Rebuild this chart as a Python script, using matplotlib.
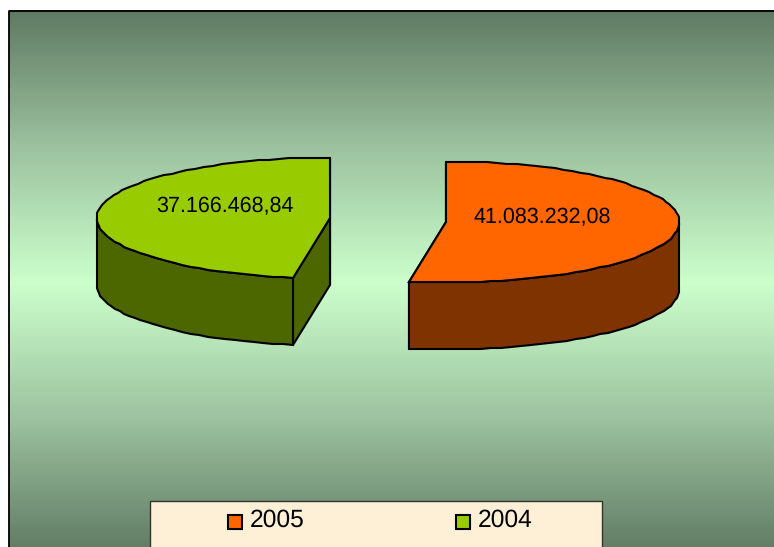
import numpy as np
import matplotlib
matplotlib.use("Agg")
import matplotlib.pyplot as plt
from matplotlib.patches import Polygon, Rectangle
from matplotlib.colors import LinearSegmentedColormap

plt.rcParams['font.family'] = ['Liberation Sans', 'DejaVu Sans']
plt.rcParams['text.hinting'] = 'none'

categories = ["2005", "2004"]
values = [41083232.08, 37166468.84]
value_labels = ["41.083.232,08", "37.166.468,84"]

W, H = 774, 547

fig = plt.figure(figsize=(W / 100, H / 100), dpi=100)
ax = fig.add_axes([0, 0, 1, 1])
ax.set_xlim(0, W)
ax.set_ylim(H, 0)
ax.axis("off")

# background gradient, dark at the edges and light in the middle
cmap = LinearSegmentedColormap.from_list("bg", ["#5f7a62", "#9cc29f", "#ccffcc", "#9cc29f", "#5f7a62"])
grad = np.linspace(0, 1, 256).reshape(-1, 1)
left, top = 8.5, 10.5
ax.imshow(grad, cmap=cmap, extent=[left, W, 556, top], aspect="auto", zorder=0)
ax.set_xlim(0, W)
ax.set_ylim(H, 0)
# the frame is only visible at the left and top, the rest runs off the image
ax.plot([left, left, W], [H, top, top], color="black", lw=1.3, zorder=1)

total = sum(values)
a, b, depth = 233.5, 60.5, 67


def ell(cx, cy, deg):
    # rounded to whole pixels, the original outline is a bit jagged
    t = np.radians(deg)
    return np.column_stack([np.round(cx + a * np.cos(t)), np.round(cy - b * np.sin(t))])


def slice_3d(cx, cy, start, sweep, top_col, side_col):
    angles = np.linspace(start, start + sweep, int(abs(sweep) / 2.5) + 1)
    arc = ell(cx, cy, angles)
    end = arc[-1]
    centre = np.array([cx, cy])
    down = np.array([0, depth])

    # cut faces at the back first, then the rim, then the top
    ax.add_patch(Polygon([centre, arc[0], arc[0] + down, centre + down], fc=side_col, ec="black", lw=1.5, zorder=2))
    ax.add_patch(Polygon([centre, end, end + down, centre + down], fc=side_col, ec="black", lw=1.5, zorder=2))

    # only the lower half of the ellipse shows as rim
    rim = arc[np.sin(np.radians(angles)) <= 0.02]
    ax.add_patch(Polygon(np.vstack([rim, (rim + down)[::-1]]), fc=side_col, ec="black", lw=1.5, zorder=3))
    ax.add_patch(Polygon(np.vstack([centre, arc]), fc=top_col, ec="black", lw=1.5, zorder=4))


sweep_2005 = 360 * values[0] / total
sweep_2004 = 360 * values[1] / total

slice_3d(446, 222, 90, -sweep_2005, "#ff6600", "#7f3300")
slice_3d(330, 218, 90, sweep_2004, "#99cc00", "#4c6600")

ax.text(542, 217.5, value_labels[0], fontsize=15.5, ha="center", va="center", color="black", zorder=6)
ax.text(224.5, 206.5, value_labels[1], fontsize=15.5, ha="center", va="center", color="black", zorder=6)

# legend
ax.add_patch(Rectangle((150, 501), 452, 50, fc="#fdf0d6", ec="#333333", lw=1, zorder=5))
legend_x = [228, 456]
legend_cols = ["#ff6600", "#99cc00"]
for x, name, col in zip(legend_x, categories, legend_cols):
    ax.add_patch(Rectangle((x, 514.5), 14, 14, fc=col, ec="black", lw=1.5, zorder=6))
    ax.text(x + 22, 520.5, name, fontsize=17.7, ha="left", va="center", color="black", zorder=6)

fig.savefig("out.png", dpi=100)
